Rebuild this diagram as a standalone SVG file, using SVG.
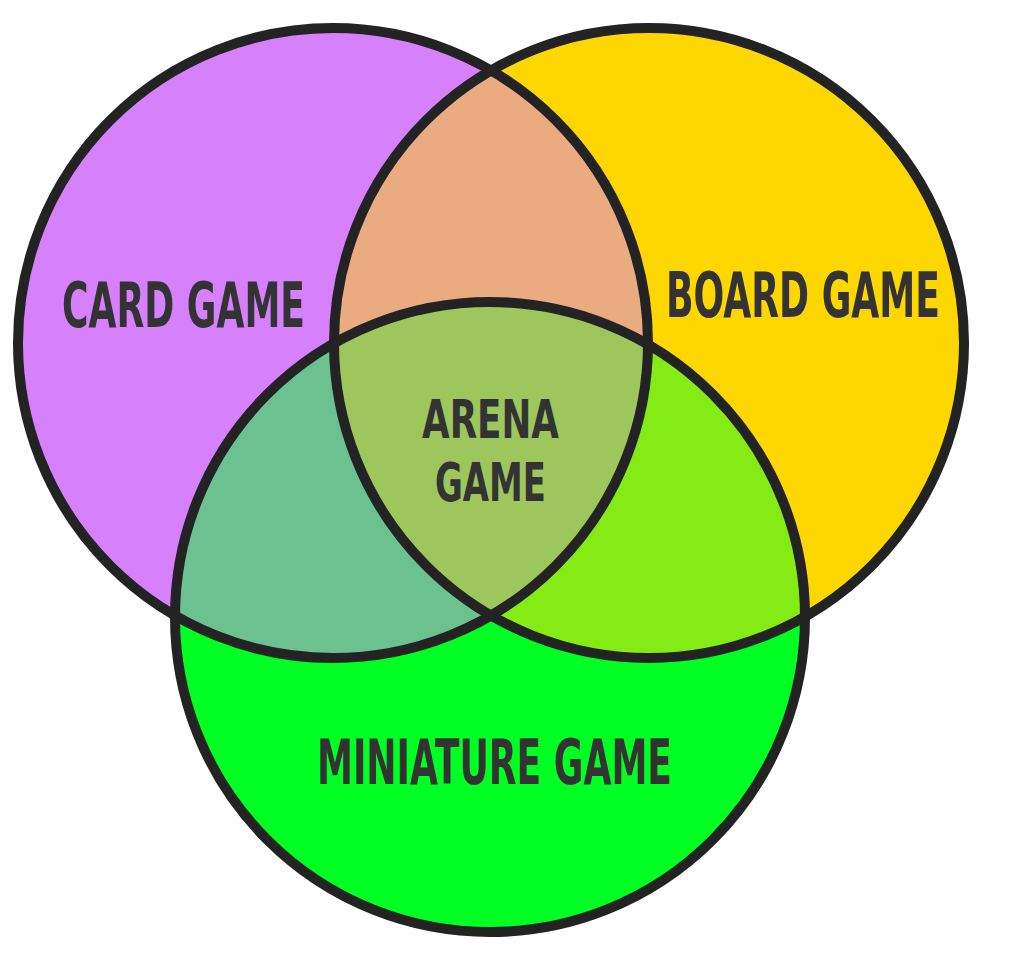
<svg xmlns="http://www.w3.org/2000/svg" width="1024" height="970" viewBox="0 0 1024 970">
  <style>
    .ring { fill: none; stroke: #232323; stroke-width: 10; }
    .lbl { font-family: "Liberation Sans Narrow", "DejaVu Sans Condensed", "Liberation Sans", sans-serif; font-weight: bold; fill: #333333; font-size: 44px; text-anchor: middle; }
    .mid { font-size: 38.3px; }
  </style>
  <defs>
    <clipPath id="clipCard"><circle cx="333" cy="343" r="315"/></clipPath>
    <clipPath id="clipBoard"><circle cx="649" cy="343" r="315"/></clipPath>
  </defs>
  <rect width="1024" height="970" fill="#ffffff"/>
  <g id="card-game">
    <circle cx="333" cy="343" r="315" fill="#D680FC"/>
  </g>
  <g id="board-game">
    <circle cx="649" cy="343" r="315" fill="#FFD700"/>
  </g>
  <g id="miniature-game">
    <circle cx="490" cy="617" r="315" fill="#00FF22"/>
  </g>
  <g id="overlaps">
    <g clip-path="url(#clipCard)">
      <circle cx="649" cy="343" r="315" fill="#EBAB80"/>
      <circle cx="490" cy="617" r="315" fill="#6BC190"/>
    </g>
    <g clip-path="url(#clipBoard)">
      <circle cx="490" cy="617" r="315" fill="#84EC14"/>
    </g>
    <g id="arena-game" clip-path="url(#clipCard)">
      <g clip-path="url(#clipBoard)">
        <circle cx="490" cy="617" r="315" fill="#9DC65C"/>
      </g>
    </g>
  </g>
  <g id="connectors">
    <circle class="ring" cx="333" cy="343" r="315"/>
    <circle class="ring" cx="649" cy="343" r="315"/>
    <circle class="ring" cx="490" cy="617" r="315"/>
  </g>
  <g id="labels">
    <text class="lbl" transform="translate(183.5,327) scale(1,1.409)" textLength="243" lengthAdjust="spacingAndGlyphs">CARD GAME</text>
    <text class="lbl" transform="translate(803,317) scale(1,1.409)" textLength="274" lengthAdjust="spacingAndGlyphs">BOARD GAME</text>
    <text class="lbl mid" transform="translate(490.5,438) scale(1,1.409)" textLength="137" lengthAdjust="spacingAndGlyphs">ARENA</text>
    <text class="lbl mid" transform="translate(490.5,501) scale(1,1.409)" textLength="111" lengthAdjust="spacingAndGlyphs">GAME</text>
    <text class="lbl" transform="translate(494.5,784) scale(1,1.409)" textLength="355" lengthAdjust="spacingAndGlyphs">MINIATURE GAME</text>
  </g>
</svg>
